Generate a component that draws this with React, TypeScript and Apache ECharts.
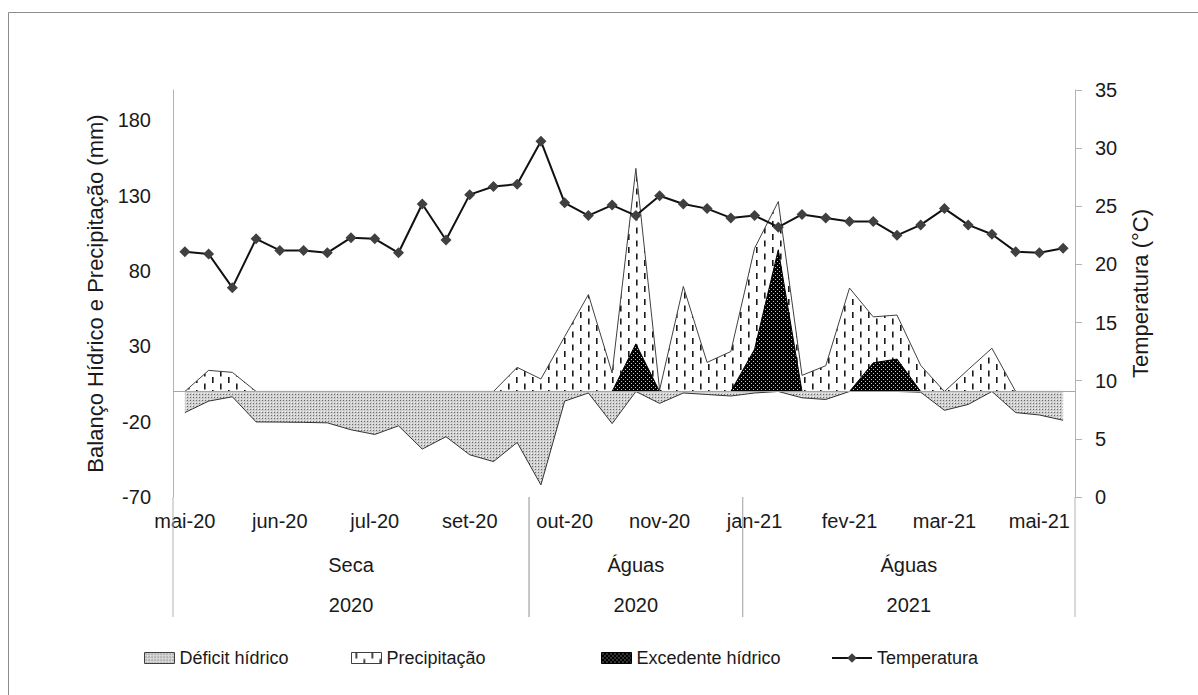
import React, { useEffect, useRef } from "react";
import * as echarts from "echarts";

const categories = [
  "mai-20", "mai-20 (2)", "mai-20 (3)", "mai-20 (4)",
  "jun-20", "jun-20 (2)", "jun-20 (3)", "jun-20 (4)",
  "jul-20", "jul-20 (2)", "jul-20 (3)", "jul-20 (4)",
  "set-20", "set-20 (2)", "set-20 (3)", "set-20 (4)",
  "out-20", "out-20 (2)", "out-20 (3)", "out-20 (4)",
  "nov-20", "nov-20 (2)", "nov-20 (3)", "nov-20 (4)",
  "jan-21", "jan-21 (2)", "jan-21 (3)", "jan-21 (4)",
  "fev-21", "fev-21 (2)", "fev-21 (3)", "fev-21 (4)",
  "mar-21", "mar-21 (2)", "mar-21 (3)", "mar-21 (4)",
  "mai-21", "mai-21 (2)",
];

const deficit = [
  -14, -6.4, -3.5, -20.2, -20.3, -20.5, -20.8, -25.4, -28.5, -22.8,
  -38.2, -30.0, -42, -46.5, -33.8, -62, -6.4, -1, -21.3, 0,
  -7.9, -1, -2, -3, -1, 0, -4.2, -5.3, 0, 0,
  0, -0.5, -12.5, -8.6, 0, -14, -15.6, -19.1,
];

const precipitacao = [
  0, 14, 12.7, 0, 0, 0, 0, 0, 0, 0,
  0, 0, 0, 0, 16, 8.3, 36.4, 64.3, 12.3, 148,
  1, 69.7, 19.3, 26.5, 95, 126, 10.7, 17.1, 68.6, 49.5,
  50.7, 17.3, 0, 14.5, 28.7, 0, 0, 0,
];

const excedente = [
  0, 0, 0, 0, 0, 0, 0, 0, 0, 0,
  0, 0, 0, 0, 0, 0, 0, 0, 0, 31.6,
  0, 0, 0, 0, 28, 94, 0, 0, 0, 19,
  21.5, 0, 0, 0, 0, 0, 0, 0,
];

const temperatura = [
  21.1, 20.9, 18.0, 22.2, 21.2, 21.2, 21.0, 22.3, 22.2, 21.0,
  25.2, 22.1, 26.0, 26.7, 26.9, 30.6, 25.3, 24.2, 25.1, 24.2,
  25.9, 25.2, 24.8, 24.0, 24.2, 23.2, 24.3, 24.0, 23.7, 23.7,
  22.5, 23.4, 24.8, 23.4, 22.6, 21.1, 21.0, 21.4,
];

const groupSeason = ["Seca", "Águas", "Águas"];
const groupYear = ["2020", "2020", "2021"];
const groupStart = [0, 15, 24];
const groupEnd = [14, 23, 37];

const FONT = '"Liberation Sans", Arial, sans-serif';
const TXT = "#1a1a1a";
const AXIS = "#b3b3b3";

function makePattern(w: number, h: number, draw: (ctx: CanvasRenderingContext2D) => void) {
  const c = document.createElement("canvas");
  c.width = w;
  c.height = h;
  const ctx = c.getContext("2d") as CanvasRenderingContext2D;
  draw(ctx);
  return { image: c, repeat: "repeat", imageWidth: w, imageHeight: h } as any;
}

export default function App() {
  const ref = useRef<HTMLDivElement>(null);

  useEffect(() => {
    const el = ref.current;
    if (!el) return;
    const chart = echarts.init(el, null, { renderer: "svg" });

    const patDef = makePattern(3, 3, (ctx) => {
      ctx.fillStyle = "#cfcfcf";
      ctx.fillRect(0, 0, 3, 3);
      ctx.fillStyle = "#f2f2f2";
      ctx.fillRect(0, 0, 1, 1);
      ctx.fillStyle = "#6a6a6a";
      ctx.fillRect(1, 1, 1, 1);
    });
    const patPrec = makePattern(16, 13, (ctx) => {
      ctx.fillStyle = "#ffffff";
      ctx.fillRect(0, 0, 16, 13);
      ctx.fillStyle = "#1a1a1a";
      ctx.fillRect(4, 0, 1.6, 6);
      ctx.fillRect(12, 6.5, 1.6, 6);
    });
    const patExc = makePattern(4, 4, (ctx) => {
      ctx.fillStyle = "#000000";
      ctx.fillRect(0, 0, 4, 4);
      ctx.fillStyle = "#c8c8c8";
      ctx.fillRect(1, 1, 1, 1);
      ctx.fillRect(3, 3, 1, 1);
    });

    const legendText = { fontSize: 18, fontFamily: FONT, color: TXT };
    const legendBase = { top: 649, itemGap: 0, selectedMode: false, textStyle: legendText, padding: 0 };

    const option: any = {
      animation: false,
      backgroundColor: "#ffffff",
      grid: { left: 173, right: 123, top: 90, bottom: 198, containLabel: false },
      graphic: [
        {
          type: "rect",
          silent: true,
          z: -10,
          shape: { x: 8.5, y: 12.5, width: 1300, height: 800 },
          style: { fill: "none", stroke: "#8c8c8c", lineWidth: 1 },
        },
      ],
      legend: [
        {
          ...legendBase, left: 144, itemWidth: 30, itemHeight: 11,
          data: [{ name: "Déficit hídrico", icon: "rect", itemStyle: { color: patDef, borderColor: "#404040", borderWidth: 1 } }],
        },
        {
          ...legendBase, left: 351, itemWidth: 30, itemHeight: 11,
          data: [{ name: "Precipitação", icon: "rect", itemStyle: { color: patPrec, borderColor: "#404040", borderWidth: 1 } }],
        },
        {
          ...legendBase, left: 601, itemWidth: 30, itemHeight: 11,
          data: [{ name: "Excedente hídrico", icon: "rect", itemStyle: { color: patExc, borderColor: "#000", borderWidth: 1 } }],
        },
        {
          ...legendBase, left: 831, itemWidth: 40, itemHeight: 12,
          data: ["Temperatura"],
        },
      ],
      xAxis: {
        type: "category",
        data: categories,
        boundaryGap: true,
        axisLine: { show: false },
        axisTick: { show: false },
        splitLine: { show: false },
        axisLabel: { interval: 3, margin: 14, fontSize: 20, fontFamily: FONT, color: TXT },
      },
      yAxis: [
        {
          type: "value",
          position: "left",
          min: -70,
          max: 200,
          interval: 50,
          axisLine: { show: true, onZero: false, lineStyle: { color: AXIS, width: 1 } },
          axisTick: { show: false },
          splitLine: { show: false },
          axisLabel: {
            margin: 22,
            fontSize: 20,
            fontFamily: FONT,
            color: TXT,
            formatter: (v: number) => ((v + 70) % 50 === 0 ? String(v) : ""),
          },
          name: "Balanço Hídrico e Precipitação (mm)",
          nameLocation: "middle",
          nameGap: 62,
          nameTextStyle: { fontSize: 22, fontFamily: FONT, color: TXT },
        },
        {
          type: "value",
          position: "right",
          min: 0,
          max: 35,
          interval: 5,
          axisLine: { show: true, onZero: false, lineStyle: { color: AXIS, width: 1 } },
          axisTick: { show: true, inside: false, length: 7, lineStyle: { color: AXIS } },
          splitLine: { show: false },
          axisLabel: { margin: 20, fontSize: 20, fontFamily: FONT, color: TXT },
          name: "Temperatura (°C)",
          nameLocation: "middle",
          nameGap: 54,
          nameTextStyle: { fontSize: 22, fontFamily: FONT, color: TXT },
        },
      ],
      series: [
        {
          name: "Déficit hídrico",
          type: "line",
          yAxisIndex: 0,
          data: deficit,
          symbol: "none",
          showSymbol: false,
          itemStyle: { color: "#bdbdbd" },
          lineStyle: { color: "#333333", width: 1 },
          areaStyle: { color: patDef, opacity: 1 },
          z: 2,
          markLine: {
            silent: true,
            symbol: ["none", "none"],
            label: { show: false },
            lineStyle: { color: "#a6a6a6", width: 1, type: "solid" },
            data: [{ yAxis: 0 }],
          },
        },
        {
          name: "Precipitação",
          type: "line",
          yAxisIndex: 0,
          data: precipitacao,
          symbol: "none",
          showSymbol: false,
          itemStyle: { color: "#ffffff" },
          lineStyle: { color: "#404040", width: 1 },
          areaStyle: { color: patPrec, opacity: 1 },
          z: 3,
        },
        {
          name: "Excedente hídrico",
          type: "line",
          yAxisIndex: 0,
          data: excedente,
          symbol: "none",
          showSymbol: false,
          itemStyle: { color: "#000000" },
          lineStyle: { color: "#000000", width: 1 },
          areaStyle: { color: patExc, opacity: 1 },
          z: 4,
        },
        {
          name: "Temperatura",
          type: "line",
          yAxisIndex: 1,
          data: temperatura,
          symbol: "diamond",
          symbolSize: 11,
          itemStyle: { color: "#404040" },
          lineStyle: { color: "#111111", width: 2 },
          z: 6,
        },
        {
          name: "grupos",
          type: "custom",
          xAxisIndex: 0,
          yAxisIndex: 0,
          silent: true,
          clip: false,
          z: 1,
          encode: { x: 0, y: 1 },
          data: groupStart.map((s, i) => [s, groupEnd[i]]),
          renderItem: (params: any, api: any) => {
            const i = params.dataIndex;
            const s = api.value(0);
            const e = api.value(1);
            const bw = api.size([1, 0])[0];
            const x0 = api.coord([s, 0])[0] - bw / 2;
            const x1 = api.coord([e, 0])[0] + bw / 2;
            const yb = api.coord([s, -70])[1];
            const mid = (x0 + x1) / 2;
            const lineStyle = { stroke: AXIS, lineWidth: 1 };
            return {
              type: "group",
              children: [
                { type: "line", shape: { x1: x0, y1: yb, x2: x0, y2: yb + 120 }, style: lineStyle },
                { type: "line", shape: { x1: x1, y1: yb, x2: x1, y2: yb + 120 }, style: lineStyle },
                {
                  type: "text",
                  x: mid,
                  y: yb + 68,
                  style: { text: groupSeason[i], fontSize: 20, fontFamily: FONT, fill: TXT, align: "center", verticalAlign: "middle" },
                },
                {
                  type: "text",
                  x: mid,
                  y: yb + 108,
                  style: { text: groupYear[i], fontSize: 20, fontFamily: FONT, fill: TXT, align: "center", verticalAlign: "middle" },
                },
              ],
            };
          },
        },
      ],
    };

    chart.setOption(option);
    return () => chart.dispose();
  }, []);

  return (
    <div
      ref={ref}
      style={{ position: "absolute", left: 0, top: 0, width: 1198, height: 695, background: "#fff" }}
    />
  );
}
